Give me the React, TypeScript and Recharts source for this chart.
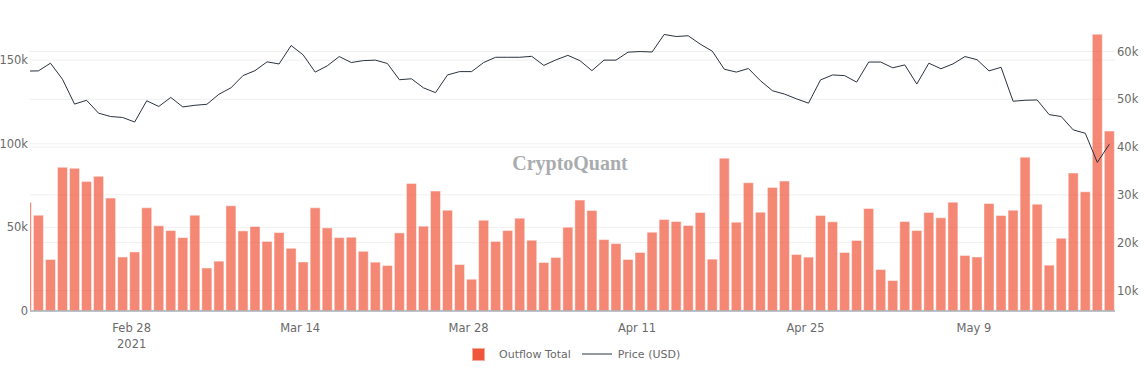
import React from 'react'
import {
  ComposedChart,
  Bar,
  Line,
  XAxis,
  YAxis,
  CartesianGrid,
  Legend,
} from 'recharts'

// daily exchange outflow (BTC) and price, Feb 19 - May 20 2021
const START_DATE = '2021-02-19'

const outflowTotal = [
  64900, 57300, 30800, 85900, 85300, 77500, 80500, 67500, 32300, 35300,
  61700, 50900, 48100, 43900, 57300, 25700, 29800, 62900, 47900, 50500,
  41600, 46900, 37500, 29300, 61700, 49700, 43900, 44100, 35700, 29200,
  27200, 46700, 76300, 50700, 71700, 60300, 27800, 19000, 54300, 41600,
  48100, 55500, 42300, 29000, 32000, 50100, 66300, 60100, 42700, 40300,
  30800, 35000, 47100, 54700, 53500, 51100, 58900, 31000, 91400, 53100,
  76700, 59100, 73900, 77700, 33800, 32200, 57100, 53300, 35000, 42200,
  61300, 24800, 18200, 53500, 48100, 58900, 55700, 65100, 33200, 32300,
  64300, 57100, 60300, 92000, 63900, 27400, 43500, 82500, 71300, 165500,
  107600,
]

const priceUsd = [
  55900, 55950, 57560, 54200, 49000, 49800, 47100, 46400, 46200, 45250,
  49700, 48500, 50400, 48400, 48750, 48960, 51060, 52400, 54960, 56000,
  57840, 57400, 61260, 59300, 55700, 57000, 58950, 57700, 58100, 58200,
  57500, 54100, 54300, 52400, 51400, 55100, 55800, 55800, 57700, 58800,
  58800, 58800, 59000, 57100, 58250, 59200, 58100, 56000, 58200, 58200,
  59870, 60000, 59900, 63570, 63150, 63300, 61550, 60080, 56300, 55700,
  56450, 53900, 51800, 51100, 50100, 49200, 54060, 55100, 54960, 53600,
  57800, 57800, 56600, 57200, 53200, 57560, 56400, 57400, 58950, 58300,
  55950, 56700, 49600, 49800, 49870, 46800, 46400, 43600, 42900, 36800,
  40600,
]

const tickDates = ['2021-02-28', '2021-03-14', '2021-03-28', '2021-04-11', '2021-04-25', '2021-05-09']
const yearLabel = { date: '2021-02-28', text: '2021' }
const leftTicks = [0, 50000, 100000, 150000]
const rightTicks = [10000, 20000, 30000, 40000, 50000, 60000]

// data timestamps sit a quarter day after midnight
const HOUR_OFFSET = 0.25
const DAY = 86400000

const dayOf = (d: string) => (Date.parse(d) - Date.parse(START_DATE)) / DAY

const data = outflowTotal.map((v, i) => {
  const d = new Date(Date.parse(START_DATE) + i * DAY)
  return {
    date: d.toISOString().slice(0, 10),
    t: i + HOUR_OFFSET,
    outflow: v,
    price: priceUsd[i],
  }
})

const tickValues = tickDates.map(dayOf)
const months = ['Jan', 'Feb', 'Mar', 'Apr', 'May', 'Jun', 'Jul', 'Aug', 'Sep', 'Oct', 'Nov', 'Dec']

const fmtK = (v: number) => (v === 0 ? '0' : `${Math.round(v / 1000)}k`)

const TICK_FONT = { fontSize: 11.5, fill: '#6a6a6a', fontFamily: 'DejaVu Sans' }

const DateTick = (props: any) => {
  const { x, y, payload } = props
  const d = new Date(Date.parse(START_DATE) + payload.value * DAY)
  const iso = d.toISOString().slice(0, 10)
  const label = `${months[d.getUTCMonth()]} ${d.getUTCDate()}`
  return (
    <g>
      <text x={x} y={y + 13} textAnchor="middle" {...TICK_FONT}>
        {label}
      </text>
      {iso === yearLabel.date && (
        <text x={x} y={y + 29} textAnchor="middle" {...TICK_FONT}>
          {yearLabel.text}
        </text>
      )}
    </g>
  )
}

const LegendBox = () => (
  <div
    style={{
      display: 'flex',
      alignItems: 'center',
      height: 24,
      fontFamily: 'DejaVu Sans',
      fontSize: 11,
      color: '#6a6a6a',
      paddingLeft: 472,
    }}
  >
    <span
      style={{
        width: 11,
        height: 11,
        background: '#EF553B',
        border: '1px solid #f7a99c',
        display: 'inline-block',
      }}
    />
    <span style={{ marginLeft: 14 }}>Outflow Total</span>
    <svg width={30} height={4} style={{ marginLeft: 11 }}>
      <line x1={0} y1={2} x2={30} y2={2} stroke="#2a3340" strokeWidth={1} />
    </svg>
    <span style={{ marginLeft: 6 }}>Price (USD)</span>
  </div>
)

if (typeof document !== 'undefined') document.body.style.margin = '0'

export default function App() {
  return (
    <div style={{ width: 1144, height: 369, background: '#fff' }}>
      <ComposedChart
        width={1144}
        height={369}
        data={data}
        margin={{ top: 20, right: 0, bottom: 0, left: 0 }}
      >
        <CartesianGrid yAxisId="left" vertical={false} stroke="#efefef" syncWithTicks />
        <CartesianGrid yAxisId="right" vertical={false} stroke="#efefef" syncWithTicks />
        <XAxis
          dataKey="t"
          type="number"
          domain={[0.55, 90.72]}
          allowDataOverflow
          ticks={tickValues}
          tick={<DateTick />}
          tickLine={false}
          axisLine={{ stroke: '#aab0b6', strokeWidth: 1.5 }}
          height={58}
          interval={0}
        />
        <YAxis
          yAxisId="left"
          orientation="left"
          width={30}
          domain={[0, 174000]}
          allowDataOverflow
          ticks={leftTicks}
          tickFormatter={fmtK}
          tick={TICK_FONT}
          tickLine={false}
          axisLine={false}
          tickSize={0}
          tickMargin={2}
        />
        <YAxis
          yAxisId="right"
          orientation="right"
          width={29}
          domain={[5700, 66600]}
          allowDataOverflow
          ticks={rightTicks}
          tickFormatter={fmtK}
          tick={TICK_FONT}
          tickLine={false}
          axisLine={false}
          tickSize={0}
          tickMargin={2}
        />
        <text
          x={570}
          y={170}
          textAnchor="middle"
          fontFamily="Liberation Serif"
          fontWeight="bold"
          fontSize={20}
          fill="#a9acaf"
        >
          CryptoQuant
        </text>
        <Bar
          yAxisId="left"
          dataKey="outflow"
          name="Outflow Total"
          fill="#EF553B"
          fillOpacity={0.7}
          stroke="#ffffff"
          strokeOpacity={0.45}
          strokeWidth={1}
          barSize={10}
          isAnimationActive={false}
        />
        <Line
          yAxisId="right"
          dataKey="price"
          name="Price (USD)"
          type="linear"
          stroke="#2a3340"
          strokeWidth={1}
          dot={false}
          activeDot={false}
          isAnimationActive={false}
        />
        <Legend
          layout="vertical"
          align="center"
          verticalAlign="middle"
          wrapperStyle={{ left: 0, top: 342, width: 1144 }}
          content={<LegendBox />}
        />
      </ComposedChart>
    </div>
  )
}
